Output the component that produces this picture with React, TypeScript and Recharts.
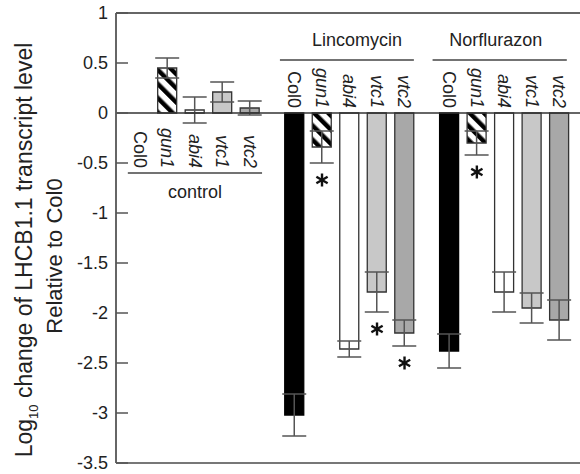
import { ComposedChart, Bar, Cell, XAxis, YAxis, ErrorBar, ReferenceLine, Scatter } from "recharts"

const strains = ["Col0", "gun1", "abi4", "vtc1", "vtc2"]
const groups = ["control", "Lincomycin", "Norflurazon"]

const controlValues = [0, 0.45, 0.03, 0.21, 0.05]
const controlErrors = [0, 0.1, 0.13, 0.1, 0.07]
const lincomycinValues = [-3.02, -0.34, -2.36, -1.79, -2.2]
const lincomycinErrors = [0.21, 0.16, 0.08, 0.2, 0.13]
const norflurazonValues = [-2.38, -0.3, -1.79, -1.95, -2.07]
const norflurazonErrors = [0.17, 0.12, 0.2, 0.15, 0.2]

// significant difference from Col0 (asterisk)
const controlStars = [false, false, false, false, false]
const lincomycinStars = [false, true, false, true, true]
const norflurazonStars = [false, true, false, false, false]

const yTicks = [1, 0.5, 0, -0.5, -1, -1.5, -2, -2.5, -3, -3.5]

// layout, in bar slots along x
const groupOffset = [0, 5.62, 11.25]
const groupLine = [
    { from: -0.44, to: 4.44, y: -0.6 },
    { from: -0.53, to: 4.34, y: 0.53 },
    { from: -0.61, to: 4.27, y: 0.53 },
]
const groupLabelShift = [0, 10, -4]

const fills = ["#000000", "url(#hatch)", "#ffffff", "#c8c8c8", "#a8a8a8"]

const values = [controlValues, lincomycinValues, norflurazonValues]
const errors = [controlErrors, lincomycinErrors, norflurazonErrors]
const stars = [controlStars, lincomycinStars, norflurazonStars]

const data = groups.flatMap((group, gi) =>
    strains.map((strain, si) => ({
        group,
        gi,
        si,
        strain,
        pos: groupOffset[gi] + si,
        value: values[gi][si],
        err: errors[gi][si],
        base: 0,
    }))
)

const starData = data
    .filter((d) => stars[d.gi][d.si])
    .map((d) => ({ pos: d.pos, star: d.value - d.err - 0.17 }))

const font = "'Liberation Sans', Arial, sans-serif"

const YTick = (props: any) => {
    const { x, y, payload } = props
    return (
        <g>
            <line x1={x + 8} x2={x + 20} y1={y} y2={y} stroke="#555" strokeWidth={1.5} />
            <text x={x} y={y} dy="0.35em" textAnchor="end" fontSize={18} fill="#222" fontFamily={font}>
                {payload.value}
            </text>
        </g>
    )
}

// strain names, rotated, hung from the zero line
const StrainLabel = (props: any) => {
    const { cx, cy, payload } = props
    const d = payload
    if (!d) return null
    const yEnd = d.gi === 0 ? cy + 55 : cy - 5
    return (
        <text
            transform={`translate(${cx},${yEnd}) rotate(90)`}
            textAnchor="end"
            dy="0.35em"
            fontSize={18}
            fontStyle={d.si === 0 ? "normal" : "italic"}
            fill="#222"
            fontFamily={font}
        >
            {d.strain}
        </text>
    )
}

const Asterisk = (props: any) => {
    const { cx, cy } = props
    const r = 6.5
    const arms = [90, 30, -30]
    return (
        <g>
            {arms.map((a) => {
                const dx = r * Math.cos((a * Math.PI) / 180)
                const dy = r * Math.sin((a * Math.PI) / 180)
                return <line key={a} x1={cx - dx} y1={cy - dy} x2={cx + dx} y2={cy + dy} stroke="#111" strokeWidth={2.4} />
            })}
        </g>
    )
}

const YLabel = () => (
    <g fontFamily={font} fill="#222">
        <text transform="translate(24,250) rotate(-90)" textAnchor="middle" dy="0.35em" fontSize={23}>
            Log<tspan fontSize={13} dy={6}>10</tspan>
            <tspan dy={-6}> change of LHCB1.1 transcript level</tspan>
        </text>
        <text transform="translate(54,256) rotate(-90)" textAnchor="middle" dy="0.35em" fontSize={22}>
            Relative to Col0
        </text>
    </g>
)

export default function App() {
    return (
        <div style={{ position: "absolute", left: 0, top: 0, background: "#fff" }}>
            <ComposedChart
                width={580}
                height={474}
                data={data}
                margin={{ top: 13, right: 0, bottom: 11, left: 56 }}
            >
                <defs>
                    <pattern id="hatch" width={10} height={10} patternUnits="userSpaceOnUse" patternTransform="rotate(-45)">
                        <rect width={10} height={10} fill="#fff" />
                        <rect x={0} y={0} width={4.5} height={10} fill="#000" />
                    </pattern>
                </defs>
                <XAxis dataKey="pos" type="number" domain={[-0.87, 16]} hide />
                <YAxis
                    type="number"
                    domain={[-3.5, 1]}
                    ticks={yTicks}
                    width={60}
                    tickSize={0}
                    tickMargin={8}
                    tick={<YTick />}
                    axisLine={{ stroke: "#666", strokeWidth: 2 }}
                    interval={0}
                    label={<YLabel />}
                />
                <ReferenceLine y={1} stroke="#666" strokeWidth={2} />
                <ReferenceLine y={-3.5} stroke="#777" strokeWidth={2} />
                <Bar dataKey="value" barSize={19} isAnimationActive={false}>
                    {data.map((d, i) => (
                        <Cell key={i} fill={fills[d.si]} stroke={d.si === 0 ? "#000" : "#333"} strokeWidth={1.3} />
                    ))}
                    <ErrorBar dataKey="err" width={12} stroke="#555" strokeWidth={1.5} direction="y" />
                </Bar>
                <ReferenceLine y={0} stroke="#333" strokeWidth={1.5} />
                {groups.map((g, gi) => (
                    <ReferenceLine
                        key={g}
                        segment={[
                            { x: groupOffset[gi] + groupLine[gi].from, y: groupLine[gi].y },
                            { x: groupOffset[gi] + groupLine[gi].to, y: groupLine[gi].y },
                        ]}
                        stroke="#444"
                        strokeWidth={1.5}
                        label={(p: any) => {
                            const vb = p.viewBox || {}
                            const cx = vb.x + (vb.width || 0) / 2 + groupLabelShift[gi]
                            const ty = gi === 0 ? vb.y + 25 : vb.y - 14
                            return (
                                <text x={cx} y={ty} textAnchor="middle" fontSize={18} fill="#222" fontFamily={font}>
                                    {g}
                                </text>
                            )
                        }}
                    />
                ))}
                <Scatter data={data} dataKey="base" shape={<StrainLabel />} isAnimationActive={false} />
                <Scatter data={starData} dataKey="star" shape={<Asterisk />} isAnimationActive={false} />
            </ComposedChart>
        </div>
    )
}
